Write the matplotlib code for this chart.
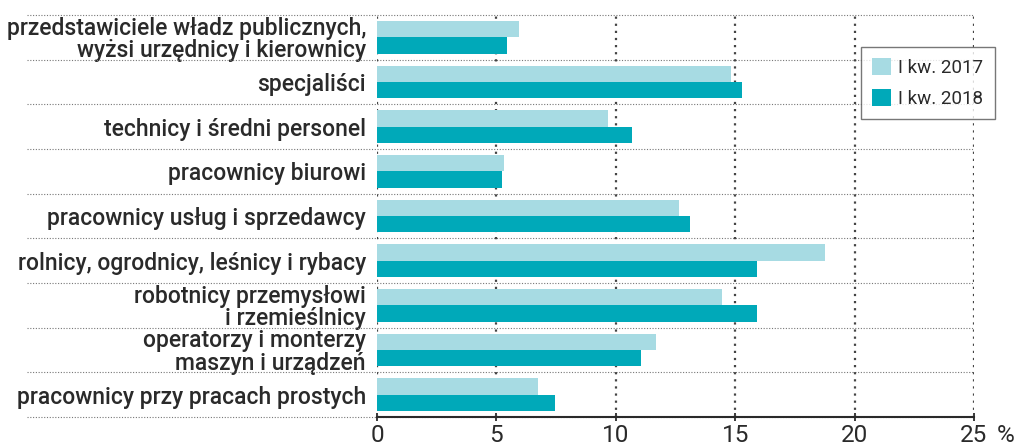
import matplotlib
matplotlib.use("Agg")
import matplotlib.pyplot as plt
import matplotlib.transforms as mtransforms
from matplotlib.patches import Patch
import numpy as np

categories = [
    "przedstawiciele władz publicznych,\nwyżsi urzędnicy i kierownicy",
    "specjaliści",
    "technicy i średni personel",
    "pracownicy biurowi",
    "pracownicy usług i sprzedawcy",
    "rolnicy, ogrodnicy, leśnicy i rybacy",
    "robotnicy przemysłowi\ni rzemieślnicy",
    "operatorzy i monterzy\nmaszyn i urządzeń",
    "pracownicy przy pracach prostych",
]
values_2017 = [5.93, 14.82, 9.67, 5.33, 12.65, 18.77, 14.43, 11.67, 6.73]
values_2018 = [5.43, 15.28, 10.66, 5.25, 13.09, 15.90, 15.90, 11.07, 7.45]
series_labels = ["I kw. 2017", "I kw. 2018"]
x_ticks = [0, 5, 10, 15, 20, 25]
x_tick_labels = ["0", "5", "10", "15", "20", "25"]

C17 = "#a7dbe3"
C18 = "#00a9b9"
TXT = "#2a2a2a"
GRID = "#444444"

plt.rcParams["font.family"] = ["Roboto", "DejaVu Sans"]

fig = plt.figure(figsize=(10.17, 4.45), dpi=100)
ax = fig.add_axes([377 / 1017, 1 - 417 / 445, (974 - 377) / 1017, (417 - 15) / 445])

y = np.arange(len(categories))
h = 0.367
ax.barh(y - h / 2, values_2017, height=h, color=C17, zorder=3)
ax.barh(y + h / 2, values_2018, height=h, color=C18, zorder=3)

ax.set_xlim(0, 25)
ax.set_ylim(len(categories) - 0.5, -0.5)

for s in ["top", "right", "left"]:
    ax.spines[s].set_visible(False)
ax.spines["bottom"].set_color(TXT)
ax.spines["bottom"].set_linewidth(1.5)
ax.spines["bottom"].set_zorder(5)

ax.set_xticks(x_ticks)
ax.set_xticklabels(x_tick_labels)
ax.tick_params(axis="x", direction="inout", length=6, width=1.3, color=TXT,
               labelsize=17.5, labelcolor=TXT, pad=2)
ax.set_yticks(y)
ax.set_yticklabels(categories, linespacing=0.95, fontweight=500)
ax.tick_params(axis="y", length=0, labelsize=16.5, labelcolor=TXT, pad=8)

# vertical dotted grid (behind bars)
for xv in x_ticks:
    ax.axvline(xv, color=GRID, linestyle=(0, (1, 2.2)), linewidth=1.6, zorder=2.5)

# horizontal separators extending into label area
trans = mtransforms.blended_transform_factory(ax.transAxes, ax.transData)
x_left = (27 - 377) / 597
for yb in np.arange(len(categories) + 1) - 0.5:
    ax.plot([x_left, 1.0], [yb, yb], transform=trans, color="#777777",
            linestyle=(0, (1, 1.5)), linewidth=0.8, clip_on=False, zorder=2)

# percent sign next to last tick
fig.canvas.draw()
lab = ax.get_xticklabels()[-1]
bb = lab.get_window_extent()
fig.text(1006 / 1017, (bb.y0 + bb.y1) / 2 / fig.bbox.height, "%", ha="center",
         va="center", fontsize=17.5, color=TXT)

handles = [Patch(facecolor=C17, edgecolor="none"), Patch(facecolor=C18, edgecolor="none")]
leg = fig.legend(handles, series_labels, loc="upper left",
                 bbox_to_anchor=(861 / 1017, 1 - 47 / 445), fontsize=13.5,
                 frameon=True, fancybox=False, edgecolor="#555555",
                 handlelength=1.0, handleheight=1.0, handletextpad=0.4,
                 labelspacing=0.65, borderpad=0.6, borderaxespad=0,
                 labelcolor=TXT)
leg.get_frame().set_linewidth(1.0)
leg.set_zorder(10)

fig.savefig("out.png", dpi=100)
